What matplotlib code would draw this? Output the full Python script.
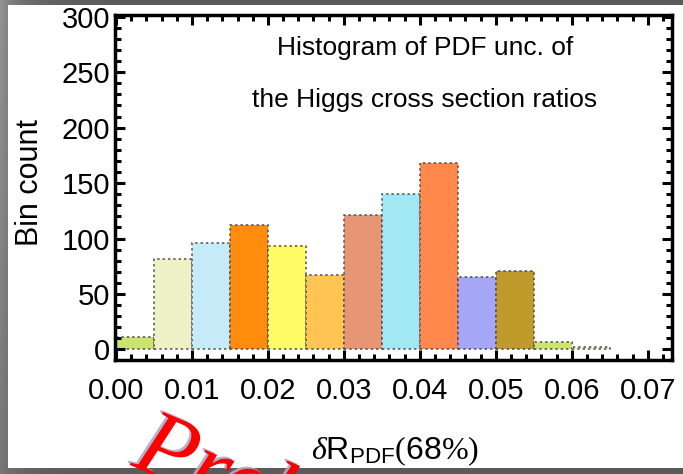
import numpy as np
import matplotlib.pyplot as plt
from matplotlib.patches import Rectangle
from matplotlib.ticker import MultipleLocator
import matplotlib.patheffects as pe

plt.rcParams['font.family'] = ['Liberation Sans', 'DejaVu Sans']
plt.rcParams['mathtext.fontset'] = 'custom'
plt.rcParams['mathtext.rm'] = 'Liberation Sans'
plt.rcParams['mathtext.it'] = 'Liberation Serif:italic'
plt.rcParams['mathtext.sf'] = 'Liberation Serif'

# histogram bins (left edges) and counts
bin_left = [0.000, 0.005, 0.010, 0.015, 0.020, 0.025, 0.030,
            0.035, 0.040, 0.045, 0.050, 0.055, 0.060]
bin_width = 0.005
counts = [11, 82, 96, 112, 93, 67, 121, 140, 168, 65, 71, 7, 2]
bar_colors = ['#cbe46a', '#eef0c6', '#c6ebf8', '#ff8c0c', '#fffc66',
              '#ffc553', '#e69575', '#a2e8f4', '#ff884d', '#a6a6f6',
              '#c09a2b', '#cde56b', '#eff1c6']

W, H = 683, 474
fig = plt.figure(figsize=(W / 100, H / 100), dpi=100)

# grey backdrop, a bit lighter towards the top-left
bg = fig.add_axes([0, 0, 1, 1], zorder=-10)
xx, yy = np.meshgrid(np.arange(W), np.arange(H))
shade = 0.36 + 0.22 * np.exp(-xx / 25.0) * (1 - 0.5 * yy / H)
bg.imshow(shade, cmap='gray', vmin=0, vmax=1, aspect='auto',
          extent=[0, 1, 0, 1], origin='upper')
bg.axis('off')

# white panel
fig.patches.append(Rectangle((8 / W, 1 - 468 / H), 1 - 8 / W, (468 - 5) / H,
                             transform=fig.transFigure, facecolor='white',
                             edgecolor='none', zorder=-5))

ax = fig.add_axes([114.5 / W, 114 / H, (672 - 114.5) / W, 345 / H])
ax.bar(bin_left, counts, width=bin_width, align='edge', color=bar_colors,
       edgecolor='#4a4a4a', linewidth=1.1, linestyle=(0, (1.5, 2.0)))

ax.set_xlim(-0.0002, 0.0732)
ax.set_ylim(-9.5, 301.6)
ax.xaxis.set_major_locator(MultipleLocator(0.01))
ax.xaxis.set_minor_locator(MultipleLocator(0.002))
ax.yaxis.set_major_locator(MultipleLocator(50))
ax.yaxis.set_minor_locator(MultipleLocator(10))
ax.xaxis.set_major_formatter(lambda v, p: f'{v:.2f}')
ax.tick_params(which='both', direction='in', top=True, right=True,
               width=2.2, labelsize=21)
ax.tick_params(which='major', length=7)
ax.tick_params(which='minor', length=4)
ax.tick_params(axis='x', pad=12)
ax.tick_params(axis='y', pad=3)
for s in ax.spines.values():
    s.set_linewidth(2.5)

fig.text(425 / W, 1 - 48 / H, 'Histogram of PDF unc. of', ha='center',
         va='center', fontsize=19)
fig.text(425 / W, 1 - 100 / H, 'the Higgs cross section ratios',
         ha='center', va='center', fontsize=19)

fig.text(30 / W, 1 - 182 / H, 'Bin count', rotation=90, ha='center',
         va='center', fontsize=22)
fig.text(395 / W, 1 - 451 / H,
         r'$\delta\mathrm{R}_{\mathrm{PDF}}\mathsf{(}\mathrm{68}\mathsf{\%)}$',
         ha='center', va='center', fontsize=23)

# watermark
fig.text(130 / W, 1 - 465 / H, 'Preliminary', rotation=-23,
         rotation_mode='anchor', ha='left', va='baseline', color='red',
         fontsize=68, family='Liberation Serif', style='italic',
         path_effects=[pe.SimplePatchShadow(offset=(-1.5, 1.5),
                                            shadow_rgbFace='#b0a8c8', alpha=0.9),
                       pe.Normal()])

fig.savefig('out.png', dpi=100)
